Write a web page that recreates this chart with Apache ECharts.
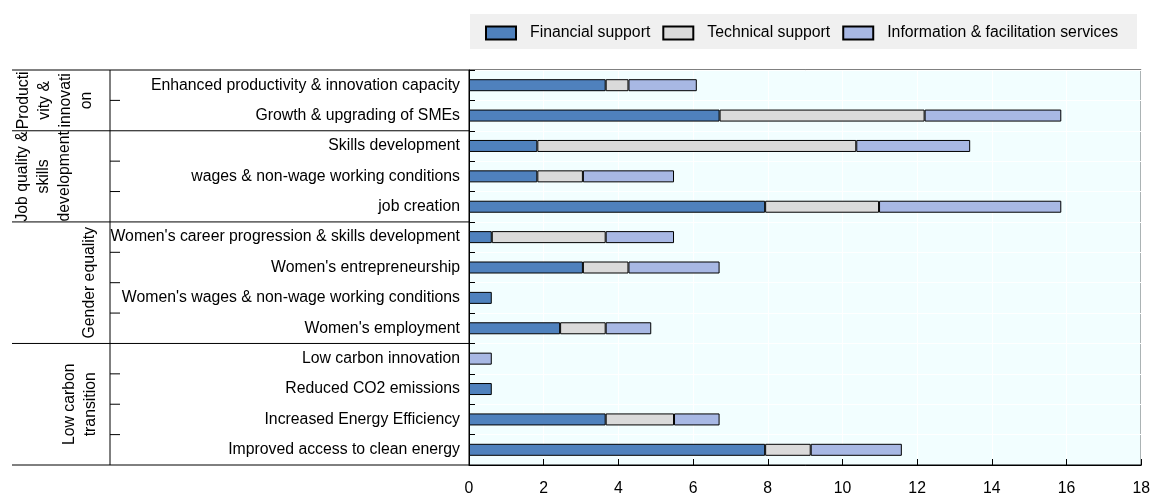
<!DOCTYPE html>
<html><head><meta charset="utf-8">
<script src="https://cdn.jsdelivr.net/npm/echarts@6/dist/echarts.min.js"></script>
<style>html,body{margin:0;padding:0;background:#fff}#c{width:1153px;height:497px}</style>
</head><body><div id="c"></div>
<script>
const categories = [
  "Enhanced productivity & innovation capacity",
  "Growth & upgrading of SMEs",
  "Skills development",
  "wages & non-wage working conditions",
  "job creation",
  "Women's career progression & skills development",
  "Women's entrepreneurship",
  "Women's wages & non-wage working conditions",
  "Women's employment",
  "Low carbon innovation",
  "Reduced CO2 emissions",
  "Increased Energy Efficiency",
  "Improved access to clean energy"
];
const seriesNames = ["Financial support", "Technical support", "Information & facilitation services"];
const financial   = [3.66, 6.71, 1.83, 1.83, 7.93, 0.61, 3.05, 0.61, 2.44, null, 0.61, 3.66, 7.93];
const technical   = [0.61, 5.49, 8.54, 1.22, 3.05, 3.05, 1.22, null, 1.22, null, null, 1.83, 1.22];
const information = [1.83, 3.66, 3.05, 2.44, 4.88, 1.83, 2.44, null, 1.22, 0.61, null, 1.22, 2.44];
const groupLabels = ["Producti\nvity &\ninnovati\non", "Job quality &\nskills\ndevelopment", "Gender equality", "Low carbon\ntransition"];
const groupSizes = [2, 3, 4, 4];
const groupLabelX = [55, 44, 90, 80];
const xMin = 0, xMax = 18, xStep = 2;

const FONT = "'Liberation Sans', Arial, sans-serif";
const FS = 15.8;
const colors = ["#4f81bd", "#dadada", "#a8b8e4"];
const chart = echarts.init(document.getElementById('c'), null, {renderer: 'canvas'});

const seriesData = [financial, technical, information];
const option = {
  animation: false,
  textStyle: {fontFamily: FONT},
  grid: {left: 469, right: 10, top: 70, bottom: 31, show: true, backgroundColor: '#f2feff', borderColor: '#000', borderWidth: 1},
  legend: {
    left: 485, top: 25, padding: 0, itemWidth: 30, itemHeight: 13, itemGap: 12, icon: 'rect',
    textStyle: {fontSize: FS, color: '#000', fontFamily: FONT, padding: [0, 0, 0, 9]},
    data: seriesNames
  },
  xAxis: {
    type: 'value', min: xMin, max: xMax, interval: xStep,
    axisLine: {show: true, lineStyle: {color: '#000', width: 1}},
    axisTick: {show: true, inside: true, length: 6, lineStyle: {color: '#000'}},
    axisLabel: {fontSize: FS, color: '#000', margin: 16, fontFamily: FONT},
    splitLine: {show: true, lineStyle: {color: '#ffffff', width: 1}}
  },
  yAxis: {
    type: 'category', inverse: true, data: categories,
    axisLine: {show: true, lineStyle: {color: '#000', width: 1}},
    axisTick: {show: true, inside: true, length: 6, lineStyle: {color: '#000'}},
    axisLabel: {fontSize: FS, color: '#000', margin: 9, fontFamily: FONT},
    splitLine: {show: true, lineStyle: {color: '#ffffff', width: 1}}
  },
  series: seriesNames.map((n, i) => ({
    name: n, type: 'bar', stack: 'total', barWidth: 12,
    itemStyle: {color: colors[i], borderColor: '#000', borderWidth: 1},
    data: seriesData[i]
  }))
};
chart.setOption(option);

// Left-side group table
const c0 = chart.convertToPixel({yAxisIndex: 0}, categories[0]);
const c1 = chart.convertToPixel({yAxisIndex: 0}, categories[1]);
const band = c1 - c0;
const topY = c0 - band / 2;
const axisX = chart.convertToPixel({xAxisIndex: 0}, 0);
const g = [];
g.push({type: 'rect', shape: {x: 470, y: 14, width: 667, height: 35}, style: {fill: '#f0f0f0'}, z: -10});
g.push({type: 'line', shape: {x1: 110, y1: topY, x2: 110, y2: topY + categories.length * band}, style: {stroke: '#000', lineWidth: 1}});
let k = 0;
const bounds = [0];
groupSizes.forEach(s => { k += s; bounds.push(k); });
bounds.forEach(b => {
  g.push({type: 'line', shape: {x1: 12, y1: topY + b * band, x2: axisX, y2: topY + b * band}, style: {stroke: '#000', lineWidth: 1}});
});
for (let i = 1; i < categories.length; i++) {
  if (bounds.indexOf(i) < 0) {
    g.push({type: 'line', shape: {x1: 110, y1: topY + i * band, x2: 120, y2: topY + i * band}, style: {stroke: '#000', lineWidth: 1}});
  }
}
groupLabels.forEach((t, i) => {
  const yc = topY + (bounds[i] + bounds[i + 1]) / 2 * band;
  g.push({type: 'text', x: groupLabelX[i], y: yc, rotation: Math.PI / 2,
    style: {text: t, align: 'center', verticalAlign: 'middle', fontSize: FS, lineHeight: 21, fill: '#000', fontFamily: FONT}});
});
chart.setOption({graphic: g});
</script>
</body></html>
